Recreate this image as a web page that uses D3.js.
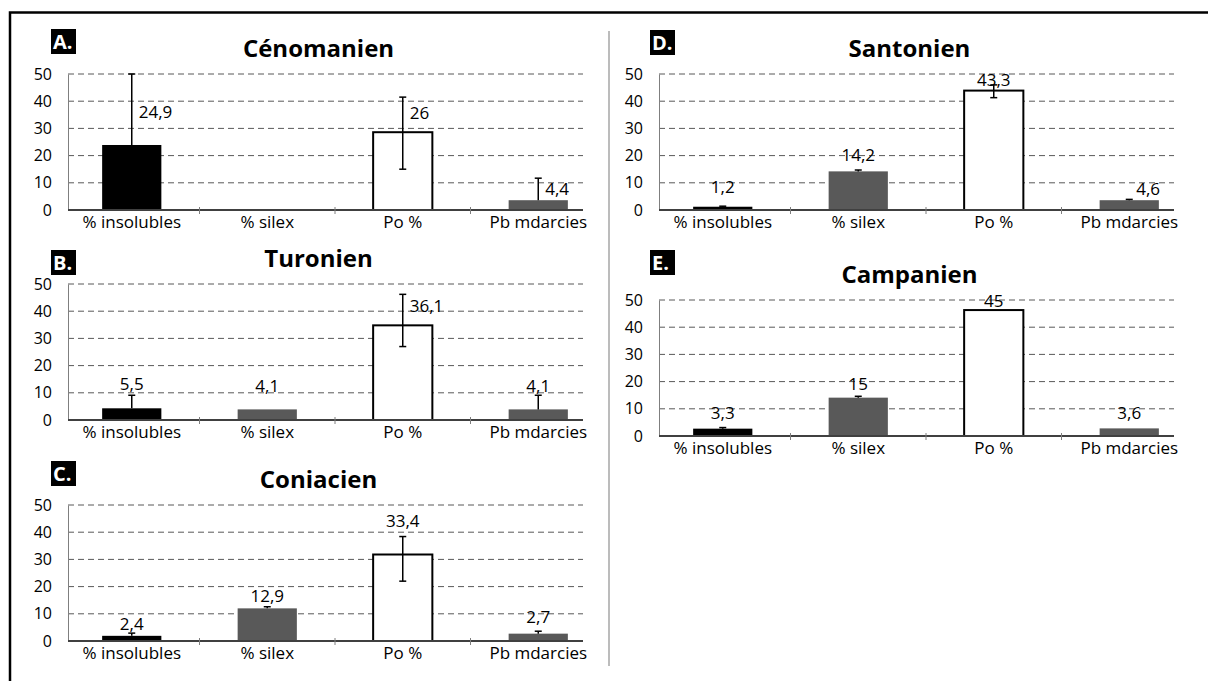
<!DOCTYPE html>
<html><head><meta charset="utf-8">
<script src="https://cdn.jsdelivr.net/npm/d3@7"></script>
<style>body{margin:0;background:#fff} svg{display:block} text{font-family:"Open Sans",sans-serif;fill:#000}</style>
</head><body><svg id="c" width="1208" height="681"></svg>
<script>
const categories = ["% insolubles", "% silex", "Po %", "Pb mdarcies"];
const panelIds = ["A.", "B.", "C.", "D.", "E."];
const panelTitles = ["Cénomanien", "Turonien", "Coniacien", "Santonien", "Campanien"];
const yTicks = [0, 10, 20, 30, 40, 50];

// bar heights
const valuesA = [23.9, null, 28.6, 3.6];
const valuesB = [4.3, 3.9, 34.8, 3.9];
const valuesC = [1.9, 12.0, 31.8, 2.7];
const valuesD = [1.2, 14.2, 43.9, 3.6];
const valuesE = [2.7, 14.1, 46.3, 2.8];

// error bars (plus / minus)
const errPlusA = [26.1, 0, 12.9, 8.1];
const errMinusA = [0, 0, 13.6, 0];
const errPlusB = [4.8, 0, 11.4, 5.2];
const errMinusB = [0, 0, 7.8, 0];
const errPlusC = [1.0, 0.6, 6.6, 0.9];
const errMinusC = [0, 0, 9.8, 0];
const errPlusD = [0.2, 0.5, 2.1, 0.3];
const errMinusD = [0, 0, 2.6, 0];
const errPlusE = [0.4, 0.5, 0, 0];
const errMinusE = [0, 0, 0, 0];

// data labels
const labelsA = ["24,9", "", "26", "4,4"];
const labelsB = ["5,5", "4,1", "36,1", "4,1"];
const labelsC = ["2,4", "12,9", "33,4", "2,7"];
const labelsD = ["1,2", "14,2", "43,3", "4,6"];
const labelsE = ["3,3", "15", "45", "3,6"];
// level (value units) at which each label sits, and its side
const labelLevelA = [36.1, null, 35.8, 7.6];
const labelLevelB = [13.1, 12.5, 41.9, 12.5];
const labelLevelC = [6.4, 16.7, 44.1, 8.9];
const labelLevelD = [8.6, 20.2, 47.8, 7.6];
const labelLevelE = [8.6, 19.0, 49.6, 8.6];
const labelSideA = ["right", "", "right", "right"];
const labelSideB = ["center", "center", "right", "center"];
const labelSideC = ["center", "center", "center", "center"];
const labelSideD = ["center", "center", "center", "right"];
const labelSideE = ["center", "center", "center", "center"];

const panelData = [
  {v: valuesA, ep: errPlusA, em: errMinusA, lab: labelsA, lv: labelLevelA, ls: labelSideA},
  {v: valuesB, ep: errPlusB, em: errMinusB, lab: labelsB, lv: labelLevelB, ls: labelSideB},
  {v: valuesC, ep: errPlusC, em: errMinusC, lab: labelsC, lv: labelLevelC, ls: labelSideC},
  {v: valuesD, ep: errPlusD, em: errMinusD, lab: labelsD, lv: labelLevelD, ls: labelSideD},
  {v: valuesE, ep: errPlusE, em: errMinusE, lab: labelsE, lv: labelLevelE, ls: labelSideE}
];

// layout
const layout = [
  {x0: 68, y50: 74, boxX: 51, boxY: 29},
  {x0: 68, y50: 284, boxX: 51, boxY: 250},
  {x0: 68, y50: 505, boxX: 51, boxY: 461},
  {x0: 659, y50: 74, boxX: 650, boxY: 30},
  {x0: 659, y50: 300, boxX: 650, boxY: 250}
];
const fills = ["#000000", "#595959", "#ffffff", "#595959"];

const svg = d3.select("#c");
svg.append("rect").attr("x", 10).attr("y", 12.5).attr("width", 1220).attr("height", 700)
  .attr("fill", "none").attr("stroke", "#000").attr("stroke-width", 2.5);
svg.append("line").attr("x1", 609).attr("x2", 609).attr("y1", 31).attr("y2", 666)
  .attr("stroke", "#a6a6a6").attr("stroke-width", 1.5);

layout.forEach((L, p) => {
  const D = panelData[p];
  const g = svg.append("g");
  const axisW = 515;
  const y = d3.scaleLinear().domain([0, 50]).range([L.y50 + 136, L.y50]);
  const x = d3.scaleBand().domain(categories).range([L.x0 - 4, L.x0 + 538])
    .paddingInner(0.563).paddingOuter(0.2815);
  const step = x.step(), bw = x.bandwidth();
  const xEnd = L.x0 + axisW;

  // gridlines
  g.selectAll(".grid").data(yTicks.filter(t => t > 0)).join("line")
    .attr("x1", L.x0).attr("x2", xEnd).attr("y1", d => y(d)).attr("y2", d => y(d))
    .attr("stroke", "#595959").attr("stroke-width", 1).attr("stroke-dasharray", "6,4");

  // y axis labels
  const yAxis = d3.axisLeft(y).tickValues(yTicks).tickSize(0).tickPadding(16);
  const ya = g.append("g").attr("transform", `translate(${L.x0},0)`).call(yAxis);
  ya.select(".domain").attr("stroke", "#7f7f7f").attr("stroke-width", 1);
  ya.selectAll("text").style("font-family", '"Open Sans",sans-serif').style("font-size", "16px").attr("fill", "#000");

  // bars
  categories.forEach((c, i) => {
    const v = D.v[i];
    if (v == null) return;
    g.append("rect").attr("x", x(c)).attr("y", y(v)).attr("width", bw).attr("height", y(0) - y(v))
      .attr("fill", fills[i]).attr("stroke", i === 2 ? "#000" : "none").attr("stroke-width", i === 2 ? 2 : 0);
  });

  // x axis line and ticks
  g.append("line").attr("x1", L.x0).attr("x2", xEnd).attr("y1", y(0)).attr("y2", y(0))
    .attr("stroke", "#404040").attr("stroke-width", 2);
  categories.slice(1).forEach(c => {
    const tx = x(c) - (step - bw) / 2;
    g.append("line").attr("x1", tx).attr("x2", tx).attr("y1", y(0) - 3).attr("y2", y(0) + 4)
      .attr("stroke", "#7f7f7f").attr("stroke-width", 1);
  });

  // error bars
  categories.forEach((c, i) => {
    const v = D.v[i];
    if (v == null) return;
    const cx = x(c) + bw / 2;
    const top = v + D.ep[i], bot = v - D.em[i];
    if (D.ep[i] === 0 && D.em[i] === 0) return;
    g.append("line").attr("x1", cx).attr("x2", cx).attr("y1", y(top)).attr("y2", y(bot))
      .attr("stroke", "#000").attr("stroke-width", 1.5);
    if (D.ep[i] > 0) g.append("line").attr("x1", cx - 3.5).attr("x2", cx + 3.5).attr("y1", y(top)).attr("y2", y(top))
      .attr("stroke", "#000").attr("stroke-width", 1.5);
    if (D.em[i] > 0) g.append("line").attr("x1", cx - 3.5).attr("x2", cx + 3.5).attr("y1", y(bot)).attr("y2", y(bot))
      .attr("stroke", "#000").attr("stroke-width", 1.5);
  });

  // data labels
  categories.forEach((c, i) => {
    if (!D.lab[i]) return;
    const cx = x(c) + bw / 2;
    const right = D.ls[i] === "right";
    g.append("text").attr("x", right ? cx + 7 : cx).attr("y", y(D.lv[i])).attr("dy", "0.36em")
      .attr("text-anchor", right ? "start" : "middle").style("font-size", "17px").text(D.lab[i]);
  });

  // category labels
  categories.forEach(c => {
    g.append("text").attr("x", x(c) + bw / 2).attr("y", y(0) + 18).attr("text-anchor", "middle")
      .style("font-size", "17px").text(c);
  });

  // title
  g.append("text").attr("x", L.x0 + axisW / 2 - 7).attr("y", L.y50 - 17).attr("text-anchor", "middle")
    .style("font-size", "24px").style("font-weight", "bold").text(panelTitles[p]);

  // panel id box
  g.append("rect").attr("x", L.boxX).attr("y", L.boxY).attr("width", 25).attr("height", 25).attr("fill", "#000");
  g.append("text").attr("x", L.boxX + 2).attr("y", L.boxY + 20).style("font-size", "20px").style("font-weight", "bold")
    .style("fill", "#fff").text(panelIds[p]);
});
</script></body></html>
